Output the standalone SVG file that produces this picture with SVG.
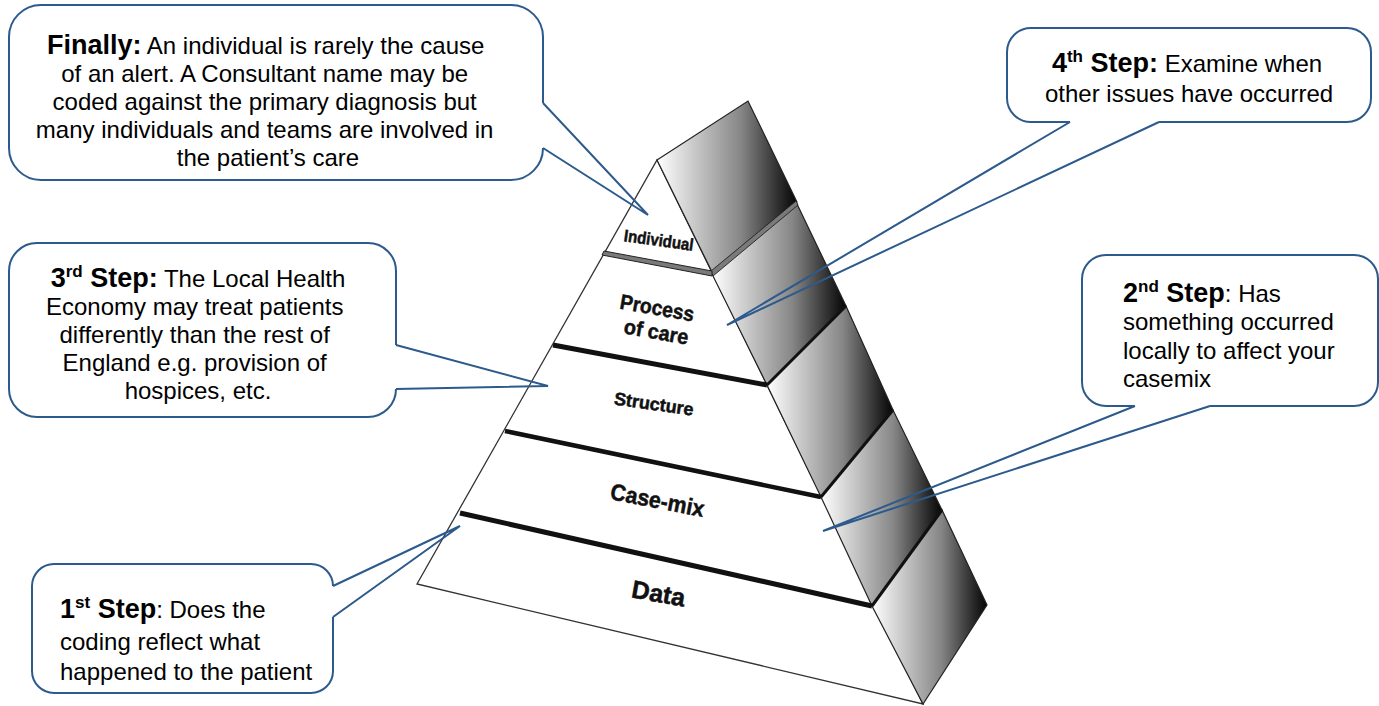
<svg xmlns="http://www.w3.org/2000/svg" width="1379" height="706" viewBox="0 0 1379 706">
  <defs>
    <linearGradient id="side" x1="0" y1="0" x2="1" y2="0">
      <stop offset="0" stop-color="#ffffff"/>
      <stop offset="0.2" stop-color="#d6d6d6"/>
      <stop offset="0.6" stop-color="#868686"/>
      <stop offset="0.88" stop-color="#2a2a2a"/>
      <stop offset="1" stop-color="#050505"/>
    </linearGradient>
    <style>
      .box { fill: none; stroke: #2C5A8C; stroke-width: 2; }
      .ptr { fill: none; stroke: #2C5A8C; stroke-width: 2; stroke-linejoin: miter; }
      .txt { font-family: "Liberation Sans", Arial, sans-serif; font-size: 24px; fill: #000; }
      .hd { font-weight: bold; font-size: 27px; }
      .sup { font-weight: bold; font-size: 17px; }
      .face { fill: #fff; stroke: #333; stroke-width: 1.3; }
      .panel { fill: url(#side); stroke: #222; stroke-width: 1.2; }
      .sep { stroke: #111; stroke-width: 3; fill: none; }
      .band { stroke: #111; fill: none; stroke-linecap: butt; }
      .lbl { font-family: "Liberation Sans", Arial, sans-serif; font-weight: bold; fill: #111; stroke: #111; stroke-width: 0.5; text-anchor: middle; }
    </style>
  </defs>
  <rect x="0" y="0" width="1379" height="706" fill="#fff"/>

  <g id="pyramid">
    <polygon class="face" points="657,160 923,704 417,584"/>
    <g id="side-panels">
      <polygon class="panel" points="657,160 748,101 797,202 712,272"/>
      <polygon class="panel" points="712,274 797,204 846,306 767,385"/>
      <polygon class="panel" points="767,385 846,306 893,410 821,497"/>
      <polygon class="panel" points="821,497 893,410 942,510 872,606"/>
      <polygon class="panel" points="872,606 942,510 987,605 923,704"/>
      <polygon points="711,271 796,201 798,205 713,276" fill="#7a7a7a" stroke="#222" stroke-width="0.9"/>
      <line class="sep" x1="767" y1="385" x2="846" y2="306"/>
      <line class="sep" x1="821" y1="497" x2="893" y2="410"/>
      <line class="sep" x1="872" y1="606" x2="942" y2="510"/>
    </g>
    <polygon points="604,251 712,271 712,276 602,255" fill="#7a7a7a" stroke="#222" stroke-width="1"/>
    <line class="band" x1="553" y1="345" x2="767" y2="385" stroke-width="5" stroke="#262626"/>
    <line class="band" x1="505" y1="431" x2="821" y2="497" stroke-width="4.5"/>
    <line class="band" x1="460" y1="513" x2="872" y2="606" stroke-width="5"/>
  </g>

  <g id="layer-individual">
    <text class="lbl" x="658" y="246" font-size="17" textLength="70" lengthAdjust="spacingAndGlyphs" transform="rotate(8 658 246)">Individual</text>
  </g>
  <g id="layer-process">
    <text class="lbl" x="656" y="315" font-size="21" textLength="75" lengthAdjust="spacingAndGlyphs" transform="rotate(10 656 315)">Process</text>
    <text class="lbl" x="655" y="339" font-size="21" textLength="65" lengthAdjust="spacingAndGlyphs" transform="rotate(10 655 339)">of care</text>
  </g>
  <g id="layer-structure">
    <text class="lbl" x="653" y="410" font-size="18" textLength="80" lengthAdjust="spacingAndGlyphs" transform="rotate(8 653 410)">Structure</text>
  </g>
  <g id="layer-casemix">
    <text class="lbl" x="656" y="508" font-size="23" textLength="95" lengthAdjust="spacingAndGlyphs" transform="rotate(11 656 508)">Case-mix</text>
  </g>
  <g id="layer-data">
    <text class="lbl" x="657" y="602" font-size="25" textLength="54" lengthAdjust="spacingAndGlyphs" transform="rotate(10 657 602)">Data</text>
  </g>

  <g id="callout-finally">
    <path class="box" d="M543,148 A32,32 0 0 1 511,180 L41,180 A32,32 0 0 1 9,148 L9,37 A32,32 0 0 1 41,5 L511,5 A32,32 0 0 1 543,37 L543,103"/>
    <text class="txt" text-anchor="middle">
      <tspan x="269" y="54"><tspan class="hd">Finally:</tspan> An individual is rarely the cause</tspan>
      <tspan x="268" y="82">of an alert. A Consultant name may be</tspan>
      <tspan x="268" y="110">coded against the primary diagnosis but</tspan>
      <tspan x="268" y="138">many individuals and teams are involved in</tspan>
      <tspan x="268" y="166">the patient’s care</tspan>
    </text>
  </g>

  <g id="callout-step4">
    <path class="box" d="M1159,122 L1347,122 A24,24 0 0 0 1371,98 L1371,52 A24,24 0 0 0 1347,28 L1031,28 A24,24 0 0 0 1007,52 L1007,98 A24,24 0 0 0 1031,122 L1070,122"/>
    <text class="txt" text-anchor="middle" x="1187" y="72"><tspan class="hd">4</tspan><tspan class="sup" dy="-10">th</tspan><tspan class="hd" dy="10"> Step:</tspan> Examine when</text>
    <text class="txt" text-anchor="middle" x="1189" y="102">other issues have occurred</text>
  </g>

  <g id="callout-step3">
    <path class="box" d="M396,389 A28,28 0 0 1 368,417 L37,417 A28,28 0 0 1 9,389 L9,271 A28,28 0 0 1 37,243 L368,243 A28,28 0 0 1 396,271 L396,345"/>
    <text class="txt" text-anchor="middle" x="198" y="287"><tspan class="hd">3</tspan><tspan class="sup" dy="-10">rd</tspan><tspan class="hd" dy="10"> Step:</tspan> The Local Health</text>
    <text class="txt" text-anchor="middle">
      <tspan x="198" y="315">Economy may treat patients</tspan>
      <tspan x="198" y="343">differently than the rest of</tspan>
      <tspan x="198" y="371">England e.g. provision of</tspan>
      <tspan x="198" y="399">hospices, etc.</tspan>
    </text>
  </g>

  <g id="callout-step2">
    <path class="box" d="M1210,406 L1354,406 A24,24 0 0 0 1378,382 L1378,279 A24,24 0 0 0 1354,255 L1106,255 A24,24 0 0 0 1082,279 L1082,382 A24,24 0 0 0 1106,406 L1135,406"/>
    <text class="txt" x="1123" y="302"><tspan class="hd">2</tspan><tspan class="sup" dy="-10">nd</tspan><tspan class="hd" dy="10"> Step</tspan>: Has</text>
    <text class="txt">
      <tspan x="1123" y="330">something occurred</tspan>
      <tspan x="1123" y="359">locally to affect your</tspan>
      <tspan x="1123" y="387">casemix</tspan>
    </text>
  </g>

  <g id="callout-step1">
    <path class="box" d="M333,617 L333,671 A22,22 0 0 1 311,693 L54,693 A22,22 0 0 1 32,671 L32,586 A22,22 0 0 1 54,564 L311,564 A22,22 0 0 1 333,586"/>
    <text class="txt" x="60" y="618"><tspan class="hd">1</tspan><tspan class="sup" dy="-10">st</tspan><tspan class="hd" dy="10"> Step</tspan>:  Does the</text>
    <text class="txt">
      <tspan x="60" y="650">coding reflect what</tspan>
      <tspan x="60" y="680">happened to the patient</tspan>
    </text>
  </g>

  <g id="connectors">
    <polyline class="ptr" points="543,103 648,215 543,148"/>
    <polyline class="ptr" points="1070,122 727,325 1159,122"/>
    <polyline class="ptr" points="396,345 548,386 396,389"/>
    <polyline class="ptr" points="1135,406 823,531 1210,406"/>
    <polyline class="ptr" points="333,586 460,526 333,617"/>
  </g>
</svg>
